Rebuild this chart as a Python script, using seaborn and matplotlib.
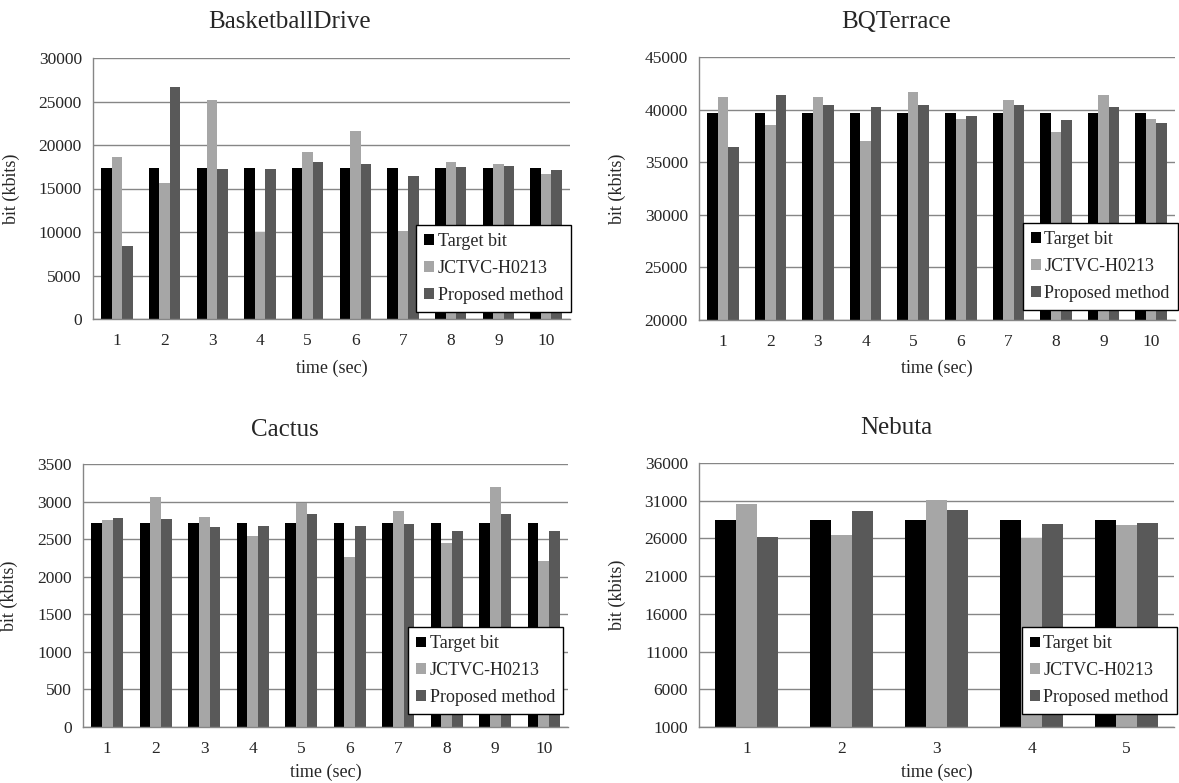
import numpy as np
import pandas as pd
import matplotlib
matplotlib.use("Agg")
import matplotlib.pyplot as plt
import seaborn as sns

methods = ["Target bit", "JCTVC-H0213", "Proposed method"]
bar_colors = ["#000000", "#a6a6a6", "#595959"]

# BasketballDrive
bd_time = ["1", "2", "3", "4", "5", "6", "7", "8", "9", "10"]
bd_target = [17400, 17400, 17400, 17400, 17400, 17400, 17400, 17400, 17400, 17400]
bd_jctvc = [18600, 15650, 25200, 10050, 19200, 21650, 10100, 18000, 17850, 16650]
bd_prop = [8350, 26650, 17200, 17200, 18000, 17780, 16400, 17500, 17580, 17100]

# BQTerrace
bq_time = ["1", "2", "3", "4", "5", "6", "7", "8", "9", "10"]
bq_target = [39700, 39700, 39700, 39700, 39700, 39700, 39700, 39700, 39700, 39700]
bq_jctvc = [41200, 38500, 41200, 37050, 41700, 39100, 40950, 37900, 41400, 39100]
bq_prop = [36400, 41350, 40400, 40250, 40400, 39400, 40400, 39050, 40250, 38700]

# Cactus
ca_time = ["1", "2", "3", "4", "5", "6", "7", "8", "9", "10"]
ca_target = [2720, 2720, 2720, 2720, 2720, 2720, 2720, 2720, 2720, 2720]
ca_jctvc = [2755, 3055, 2800, 2540, 2985, 2265, 2880, 2450, 3190, 2210]
ca_prop = [2780, 2765, 2660, 2675, 2830, 2675, 2705, 2615, 2840, 2605]

# Nebuta
ne_time = ["1", "2", "3", "4", "5"]
ne_target = [28500, 28500, 28500, 28500, 28500]
ne_jctvc = [30550, 26500, 31050, 26050, 27750]
ne_prop = [26250, 29600, 29750, 27900, 28050]

ticks_bd = [0, 5000, 10000, 15000, 20000, 25000, 30000]
ticks_bq = [20000, 25000, 30000, 35000, 40000, 45000]
ticks_ca = [0, 500, 1000, 1500, 2000, 2500, 3000, 3500]
ticks_ne = [1000, 6000, 11000, 16000, 21000, 26000, 31000, 36000]

sns.set_style("white")
plt.rcParams["font.family"] = ["Liberation Serif", "DejaVu Serif"]

W, H = 1179, 783
fig = plt.figure(figsize=(W / 100, H / 100), dpi=100)

def long_df(times, target, jctvc, prop):
    rows = []
    for vals, m in zip([target, jctvc, prop], methods):
        for t, v in zip(times, vals):
            rows.append({"time": t, "bits": v, "method": m})
    return pd.DataFrame(rows)

# (title, data, yticks, axes px box [left, top, right, bottom], title px (x, y),
#  legend anchor, ylabel x px, xlabel gap px)
panels = [
    ("BasketballDrive", long_df(bd_time, bd_target, bd_jctvc, bd_prop), ticks_bd,
     (93, 58, 570, 319), (290, 22), (1.003, 0.027), 20, 41),
    ("BQTerrace", long_df(bq_time, bq_target, bq_jctvc, bq_prop), ticks_bq,
     (699, 57, 1175, 320), (896, 22), (1.006, 0.038), 626, 40),
    ("Cactus", long_df(ca_time, ca_target, ca_jctvc, ca_prop), ticks_ca,
     (83, 464, 568, 727), (285, 430), (0.99, 0.048), 18, 37),
    ("Nebuta", long_df(ne_time, ne_target, ne_jctvc, ne_prop), ticks_ne,
     (699, 463, 1174, 727), (896, 428), (1.006, 0.048), 626, 37),
]

grid_col = "#868686"

for title, df, yt, box, tpos, lpos, ylx, xlgap in panels:
    l, t, r, b = box
    ax = fig.add_axes([l / W, 1 - b / H, (r - l) / W, (b - t) / H])
    sns.barplot(data=df, x="time", y="bits", hue="method", palette=bar_colors,
                width=0.66, saturation=1, linewidth=0, ax=ax)
    n = df["time"].nunique()
    ax.set_xlim(-0.5, n - 0.5)
    ax.set_ylim(yt[0], yt[-1])
    ax.set_yticks(yt)
    ax.set_yticklabels([str(v) for v in yt], fontsize=12.5)
    ax.set_xticks(np.arange(n))
    ax.set_xticklabels(df["time"].unique(), fontsize=12.5)
    ax.set_xticks(np.arange(n + 1) - 0.5, minor=True)
    ax.tick_params(axis="x", which="major", length=0, pad=10)
    ax.tick_params(axis="x", which="minor", length=5, width=1, color=grid_col)
    ax.tick_params(axis="y", length=4, width=1, color=grid_col, pad=4)
    ax.yaxis.grid(True, color=grid_col, lw=1)
    ax.set_axisbelow(True)
    for s in ["top", "right"]:
        ax.spines[s].set_visible(False)
    for s in ["left", "bottom"]:
        ax.spines[s].set_color(grid_col)
        ax.spines[s].set_linewidth(1)
    ax.set_xlabel("time (sec)", fontsize=13)
    ax.set_ylabel("bit (kbits)", fontsize=13)
    ax.xaxis.set_label_coords(0.5, -xlgap / (b - t))
    ax.yaxis.set_label_coords(-(l - ylx) / (r - l), 0.5)
    handles, labels = ax.get_legend_handles_labels()
    ax.legend(handles, labels, loc="lower right", bbox_to_anchor=lpos,
              fontsize=13, frameon=True, fancybox=False, edgecolor="black",
              framealpha=1, handlelength=0.55, handleheight=0.55,
              handletextpad=0.2, labelspacing=0.55, borderpad=0.45,
              borderaxespad=0)
    ax.get_legend().get_frame().set_linewidth(1)
    fig.text(tpos[0] / W, 1 - tpos[1] / H, title, fontsize=18,
             ha="center", va="center")

fig.savefig("out.png", dpi=100)
